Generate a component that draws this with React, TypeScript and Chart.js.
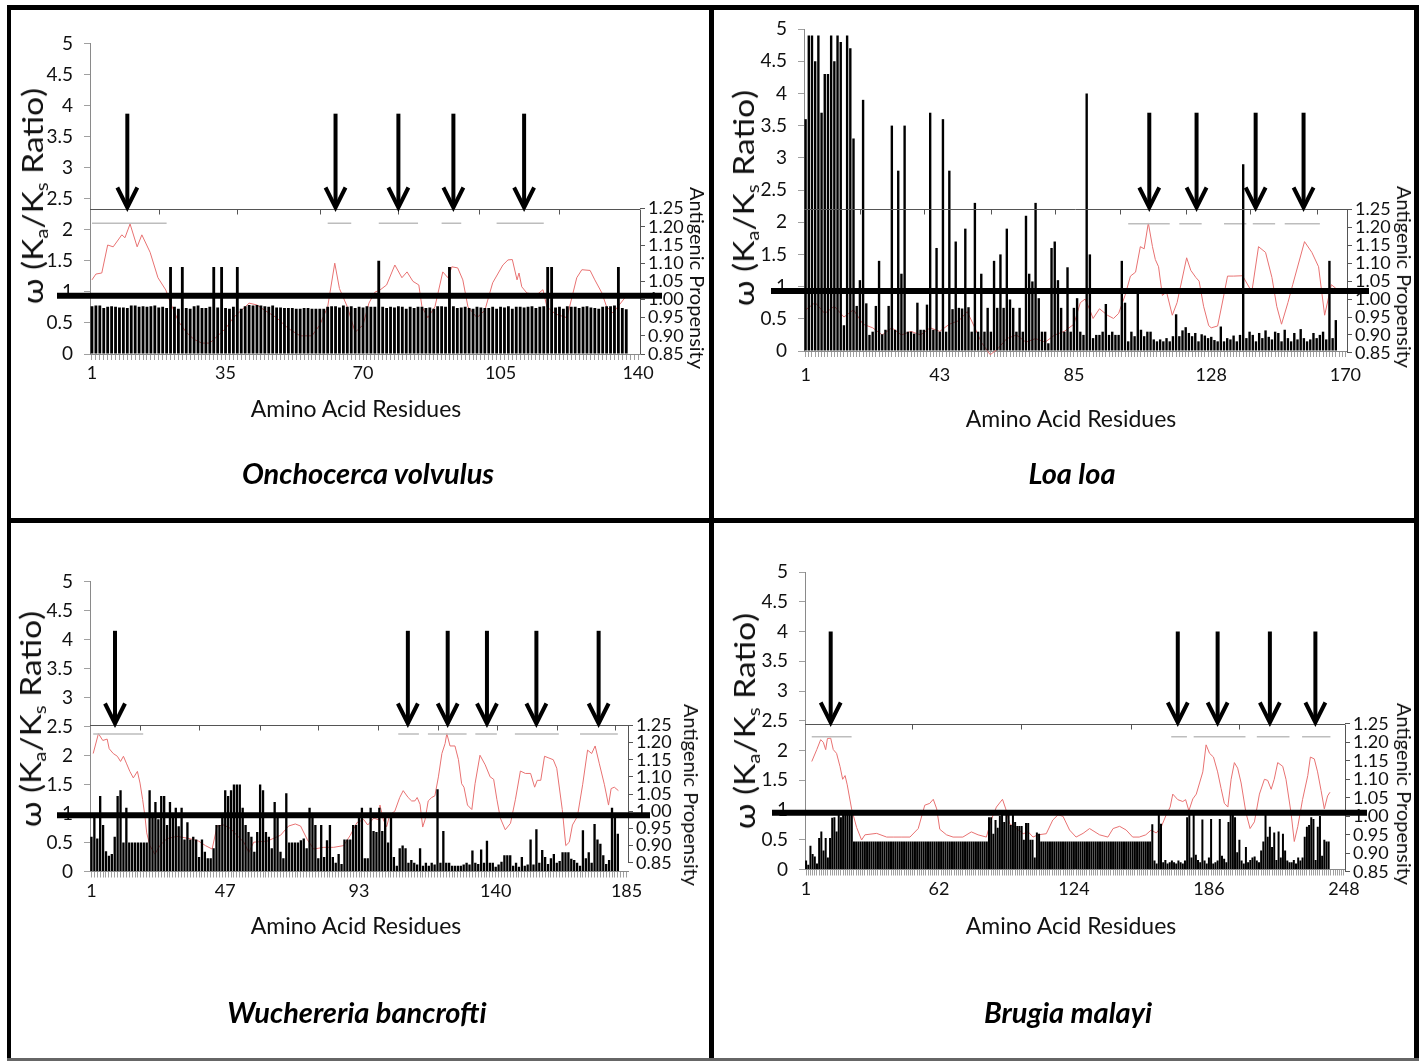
import React, { useEffect, useRef } from 'react';
import { Chart, registerables } from 'chart.js';

Chart.register(...registerables);

const FONT = "Lato, 'DejaVu Sans', sans-serif";
Chart.defaults.font.family = FONT;

// ---------- shared tick values ----------
const KAKS_STEP = 0.5;
const AP_TICKS = [0.85, 0.9, 0.95, 1.0, 1.05, 1.1, 1.15, 1.2, 1.25];

// ---------- Onchocerca volvulus ----------
const OV_LABELS = [1, 35, 70, 105, 140];
const OV_KAKS = [
  0.77, 0.78, 0.78, 0.74, 0.76, 0.77, 0.76, 0.75, 0.75, 0.74,
  0.78, 0.78, 0.76, 0.77, 0.76, 0.77, 0.78, 0.75, 0.76, 0.74,
  1.4, 0.76, 0.73, 1.4, 0.74, 0.73, 0.77, 0.78, 0.74, 0.74,
  0.76, 1.4, 0.75, 1.4, 0.74, 0.73, 0.76, 1.4, 0.73, 0.77,
  0.79, 0.78, 0.79, 0.78, 0.77, 0.76, 0.78, 0.75, 0.75, 0.74,
  0.74, 0.74, 0.73, 0.73, 0.74, 0.74, 0.73, 0.73, 0.73, 0.73,
  0.76, 0.77, 0.77, 0.75, 0.78, 0.76, 0.77, 0.74, 0.76, 0.75,
  0.77, 0.76, 0.76, 1.5, 0.76, 0.74, 0.76, 0.75, 0.77, 0.76,
  0.73, 0.76, 0.74, 0.76, 0.76, 0.74, 0.75, 0.73, 0.77, 0.77,
  0.76, 1.4, 0.77, 0.74, 0.75, 0.76, 0.74, 0.73, 0.76, 0.75,
  0.74, 0.74, 0.76, 0.73, 0.76, 0.75, 0.77, 0.73, 0.76, 0.76,
  0.75, 0.76, 0.77, 0.74, 0.76, 0.77, 1.4, 1.4, 0.75, 0.76,
  0.73, 0.77, 0.76, 0.76, 0.74, 0.76, 0.77, 0.75, 0.74, 0.73,
  0.76, 0.77, 0.77, 0.78, 1.4, 0.74, 0.72,
];
const OV_ANTIGENIC = [
  [1, 1.054], [2, 1.07], [3.5, 1.073], [5, 1.15], [6.4, 1.145], [8.6, 1.178], [9.4, 1.17], [10.7, 1.208],
  [12.5, 1.145], [13.7, 1.178], [15.8, 1.13], [17.8, 1.06], [19.8, 1.026], [21, 0.99], [23, 0.94], [25, 0.91],
  [27, 0.89], [29, 0.88], [31, 0.88], [33, 0.9], [35, 0.92], [37, 0.95], [39, 0.97], [41, 0.99], [43, 0.985],
  [45, 0.97], [48, 0.95], [51, 0.92], [54, 0.9], [57, 0.9], [59, 0.93], [61, 0.98], [62.8, 1.1], [64, 1.03],
  [66, 0.98], [68, 0.91], [70, 0.93], [71.5, 0.99], [73, 1.02], [74.3, 1.026], [76, 1.04], [78.1, 1.095],
  [79.9, 1.06], [81.2, 1.076], [82.7, 1.05], [84.2, 1.04], [85, 0.98], [86.5, 0.95], [88.3, 0.98], [90.3, 1.076],
  [91.6, 1.06], [92.6, 1.09], [94.1, 1.087], [95.4, 1.054], [96.7, 0.98], [99, 0.95], [101, 0.97], [103, 1.046],
  [105.6, 1.095], [106.9, 1.109], [108, 1.11], [109.2, 1.054], [109.7, 1.073], [110.4, 1.035], [111.7, 1.018],
  [114.2, 1.013], [115.8, 1.027], [116.8, 0.98], [119, 0.96], [121.9, 0.95], [124.4, 1.06], [125.7, 1.082],
  [127.8, 1.08], [129, 1.054], [130.8, 1.018], [132, 0.98], [133.6, 0.963], [136.6, 1.004],
];
const OV_EPITOPES = [[1, 20], [61, 67], [74, 84], [90, 95], [104, 116]];
const OV_ARROWS = [10, 63, 79, 93, 111];
const OV_BOX_TICKS = [18, 38, 59, 79, 99.5, 120];

// ---------- Loa loa ----------
const LL_LABELS = [1, 43, 85, 128, 170];
const LL_KAKS = [
  3.6, 4.9, 4.9, 4.5, 4.9, 3.7, 4.3, 4.3, 4.9, 4.5,
  4.9, 4.8, 0.4, 4.9, 4.7, 3.3, 0.7, 1.1, 3.9, 0.74,
  0.25, 0.3, 0.7, 1.4, 0.26, 0.33, 0.7, 3.5, 0.33, 2.8,
  1.2, 3.5, 0.3, 0.3, 0.27, 0.75, 0.33, 0.33, 0.72, 3.7,
  0.33, 1.6, 0.3, 3.6, 0.3, 2.8, 0.65, 1.7, 0.67, 0.66,
  1.9, 0.68, 0.3, 2.3, 0.3, 1.2, 0.3, 0.67, 0.3, 1.4,
  0.67, 1.5, 0.67, 1.9, 0.8, 0.67, 0.3, 0.67, 0.3, 2.1,
  1.2, 1.08, 2.3, 0.82, 0.3, 0.3, 0.12, 1.6, 1.7, 1.1,
  0.67, 0.3, 1.3, 0.3, 0.67, 0.82, 0.3, 0.25, 4.0, 1.5,
  0.2, 0.25, 0.25, 0.3, 0.73, 0.25, 0.3, 0.25, 0.25, 1.4,
  0.75, 0.15, 0.3, 0.23, 0.9, 0.33, 0.23, 0.3, 0.3, 0.18,
  0.15, 0.18, 0.15, 0.2, 0.15, 0.23, 0.57, 0.23, 0.32, 0.37,
  0.28, 0.23, 0.28, 0.15, 0.26, 0.24, 0.2, 0.22, 0.17, 0.15,
  0.38, 0.15, 0.2, 0.18, 0.24, 0.15, 0.25, 2.9, 0.2, 0.3,
  0.25, 0.15, 0.28, 0.2, 0.32, 0.22, 0.18, 0.3, 0.28, 0.15,
  0.33, 0.2, 0.15, 0.28, 0.18, 0.34, 0.2, 0.15, 0.18, 0.28,
  0.2, 0.25, 0.3, 0.18, 1.4, 0.2, 0.48,
];
const LL_ANTIGENIC = [
  [1, 0.97], [4, 0.99], [7, 0.96], [10, 0.98], [13, 0.95], [16, 0.97], [19, 0.93], [22, 0.92], [25, 0.9],
  [28, 0.92], [31, 0.9], [34, 0.91], [37, 0.9], [40, 0.92], [43, 0.91], [46, 0.93], [49, 0.94], [51.6, 0.965],
  [54, 0.92], [56, 0.88], [58.8, 0.845], [61, 0.86], [64, 0.89], [67, 0.9], [70, 0.88], [73, 0.89], [76, 0.88],
  [79, 0.9], [82, 0.91], [85, 0.93], [87, 0.99], [88.5, 1.0], [90, 0.97], [91, 0.946], [93, 0.973], [95.5, 0.955],
  [97.4, 0.946], [99, 0.96], [101, 1.01], [102.7, 1.064], [104.3, 1.075], [105.8, 1.146], [107, 1.14],
  [108.3, 1.212], [109.6, 1.146], [110.5, 1.11], [111.5, 1.09], [112.7, 1.01], [114, 1.02], [115.8, 0.955],
  [117.3, 0.99], [120.3, 1.115], [121.6, 1.08], [123.2, 1.06], [124.2, 1.05], [125.6, 0.98], [127.2, 0.926],
  [128, 0.92], [130, 0.925], [131.7, 1.0], [133.1, 1.064], [135, 1.064], [137.8, 1.065], [140.7, 1.02],
  [142.8, 1.146], [145, 1.13], [147, 1.06], [148.5, 0.98], [150, 0.93], [152, 0.99], [153.5, 1.04],
  [157.2, 1.16], [159.5, 1.13], [161.6, 1.09], [163.5, 0.955], [165.6, 1.04], [167, 1.03],
];
const LL_EPITOPES = [[102, 115], [118, 125], [132, 139], [141, 148], [151, 162]];
const LL_ARROWS = [108.6, 123.4, 141.9, 156.9];
const LL_BOX_TICKS = [18, 38, 59, 79, 99.4, 120, 140, 161];

// ---------- Wuchereria bancrofti ----------
const WB_LABELS = [1, 47, 93, 140, 185];
const WB_KAKS = [
  0.6, 0.97, 0.57, 1.3, 0.8, 0.35, 0.27, 0.3, 0.6, 1.3,
  1.4, 0.5, 1.1, 0.5, 0.5, 0.5, 0.5, 0.5, 0.5, 0.5,
  1.4, 0.97, 1.2, 0.9, 1.3, 1.3, 0.8, 1.2, 0.95, 1.1,
  0.78, 1.1, 0.55, 0.85, 0.55, 0.6, 0.55, 0.25, 0.55, 0.34,
  0.23, 0.23, 0.4, 0.8, 0.8, 0.97, 1.4, 1.3, 1.4, 1.5,
  1.5, 1.5, 1.1, 0.8, 0.68, 0.6, 0.34, 0.68, 1.5, 1.4,
  0.68, 0.6, 0.4, 1.2, 0.97, 0.34, 0.23, 1.35, 0.5, 0.5,
  0.5, 0.5, 0.54, 0.57, 0.4, 1.1, 0.95, 0.8, 0.23, 0.8,
  0.25, 0.54, 0.8, 0.25, 0.15, 0.3, 0.13, 0.55, 0.55, 0.55,
  0.8, 0.8, 0.97, 1.1, 0.23, 0.23, 1.1, 0.7, 0.68, 1.1,
  0.7, 0.97, 0.5, 0.97, 0.25, 0.1, 0.4, 0.45, 0.4, 0.15,
  0.2, 0.15, 0.12, 0.4, 0.1, 0.15, 0.1, 0.15, 0.12, 1.42,
  0.15, 0.7, 0.15, 0.15, 0.1, 0.1, 0.1, 0.1, 0.12, 0.15,
  0.12, 0.36, 0.15, 0.13, 0.38, 0.15, 0.53, 0.15, 0.15, 0.08,
  0.12, 0.17, 0.28, 0.28, 0.28, 0.1, 0.15, 0.08, 0.25, 0.1,
  0.12, 0.55, 0.12, 0.73, 0.15, 0.37, 0.25, 0.13, 0.23, 0.3,
  0.15, 0.18, 0.33, 0.33, 0.33, 0.22, 0.2, 0.15, 0.1, 0.71,
  0.23, 0.33, 0.15, 0.82, 0.55, 0.48, 0.28, 0.13, 0.2, 1.1,
  0.97, 0.65,
];
const WB_ANTIGENIC = [
  [1.6, 1.168], [3.4, 1.226], [4.9, 1.206], [6.4, 1.21], [7.1, 1.182], [8.5, 1.168], [9.9, 1.16], [11, 1.145],
  [12, 1.16], [13, 1.14], [14.2, 1.116], [15.4, 1.097], [16.8, 1.116], [17.7, 1.082], [18.6, 1.034],
  [19.4, 0.985], [20, 0.937], [21.1, 0.9], [22.8, 0.875], [24.5, 0.9], [26.9, 0.92], [30.4, 0.927], [35, 0.92],
  [37.9, 0.913], [40.2, 0.9], [42.5, 0.89], [44.2, 0.957], [46.5, 0.96], [48.8, 0.95], [51, 0.93], [53.4, 0.91],
  [55.1, 0.88], [56.8, 0.91], [61.4, 0.913], [66, 0.93], [68.8, 0.957], [71.1, 0.963], [72.9, 0.957],
  [75.2, 0.918], [77.4, 0.89], [80.9, 0.895], [84.3, 0.895], [87.7, 0.9], [90, 0.93], [92.3, 0.967],
  [94.6, 0.976], [96, 0.96], [98.1, 0.98], [99.8, 0.975], [100.2, 1.018], [101.4, 0.975], [102.5, 0.955],
  [103.6, 0.99], [105.3, 1.0], [107, 1.04], [108.2, 1.06], [109.9, 1.04], [111.1, 1.03], [112.2, 1.03],
  [113, 1.04], [114, 1.02], [114.9, 0.954], [115.7, 0.975], [116.8, 1.03], [118, 1.04], [119.1, 1.045],
  [120.3, 1.1], [121.5, 1.168], [122.6, 1.197], [123.2, 1.226], [124.3, 1.19], [126, 1.19], [127.2, 1.15],
  [128.3, 1.08], [129.1, 1.07], [130.3, 1.018], [131.8, 1.005], [132.9, 1.08], [134.6, 1.163], [136.4, 1.135],
  [138.1, 1.1], [139.3, 1.093], [140.4, 1.035], [141.6, 0.98], [143.3, 0.946], [145.1, 0.965], [146.8, 1.035],
  [148.5, 1.117], [150.2, 1.11], [152, 1.11], [153.4, 1.07], [154.3, 1.09], [155.5, 1.09], [156.8, 1.16],
  [158.3, 1.155], [159.8, 1.15], [161, 1.125], [162.9, 1.005], [164.1, 0.9], [165.3, 0.91], [166.4, 0.96],
  [168.1, 0.985], [169.9, 1.077], [171.6, 1.178], [173, 1.168], [174.2, 1.19], [175.6, 1.14], [177.4, 1.077],
  [178.8, 1.018], [179.7, 1.066], [180.8, 1.07], [182.2, 1.06],
];
const WB_EPITOPES = [[1.6, 18.8], [106.5, 113.6], [116.7, 130], [133, 140.4], [146.6, 161.7], [169, 182]];
const WB_ARROWS = [9.1, 109.8, 123.5, 137, 154, 175.4];
const WB_BOX_TICKS = [17.7, 38, 58.9, 79, 99.5, 120, 140.5, 161, 181];

// ---------- Brugia malayi ----------
const BM_LABELS = [1, 62, 124, 186, 248];
const BM_KAKS = [
  0.15, 0.08, 0.4, 0.26, 0.22, 0.1, 0.53, 0.64, 0.32, 0.53,
  0.2, 0.53, 0.87, 0.88, 0.64, 0.94, 0.88, 0.94, 0.94, 0.94,
  0.94, 0.94,
  0.47, 0.47, 0.47, 0.47, 0.47, 0.47, 0.47, 0.47, 0.47, 0.47,
  0.47, 0.47, 0.47, 0.47, 0.47, 0.47, 0.47, 0.47, 0.47, 0.47,
  0.47, 0.47, 0.47, 0.47, 0.47, 0.47, 0.47, 0.47, 0.47, 0.47,
  0.47, 0.47, 0.47, 0.47, 0.47, 0.47, 0.47, 0.47, 0.47, 0.47,
  0.47, 0.47, 0.47, 0.47, 0.47, 0.47, 0.47, 0.47, 0.47, 0.47,
  0.47, 0.47, 0.47, 0.47, 0.47, 0.47, 0.47, 0.47, 0.47, 0.47,
  0.47, 0.47,
  0.88, 0.88, 0.6, 0.83, 0.7, 0.9, 0.94, 0.8, 0.94, 0.94,
  0.75, 0.94, 0.8, 0.73, 0.73, 0.73, 0.5, 0.78, 0.78, 0.5,
  0.5, 0.2, 0.62, 0.6,
  0.47, 0.47, 0.47, 0.47, 0.47, 0.47, 0.47, 0.47, 0.47, 0.47,
  0.47, 0.47, 0.47, 0.47, 0.47, 0.47, 0.47, 0.47, 0.47, 0.47,
  0.47, 0.47, 0.47, 0.47, 0.47, 0.47, 0.47, 0.47, 0.47, 0.47,
  0.47, 0.47, 0.47, 0.47, 0.47, 0.47, 0.47, 0.47, 0.47, 0.47,
  0.47, 0.47, 0.47, 0.47, 0.47, 0.47, 0.47, 0.47, 0.47, 0.47,
  0.47,
  0.76, 0.15, 0.1, 0.94, 0.77, 0.12, 0.16, 0.1, 0.12, 0.15,
  0.12, 0.1, 0.15, 0.12, 0.1, 0.15, 0.88, 0.94, 0.2, 0.94,
  0.25, 0.16, 0.12, 0.84, 0.15, 0.1, 0.2, 0.85, 0.1, 0.12,
  0.15, 0.85, 0.23, 0.18, 0.12, 0.8, 0.94, 0.94, 0.88, 0.29,
  0.5, 0.15, 0.1, 0.38, 0.12, 0.16, 0.2, 0.22, 0.15, 0.12,
  0.32, 0.47, 0.94, 0.55, 0.72, 0.38, 0.62, 0.16, 0.64, 0.2,
  0.6, 0.32, 0.15, 0.12, 0.12, 0.16, 0.1, 0.2, 0.15, 0.2,
  0.55, 0.72, 0.75, 0.88, 0.85, 0.16, 0.72, 0.9, 0.23, 0.5,
  0.47, 0.47,
];
const BM_ANTIGENIC = [
  [3.6, 1.148], [5.9, 1.18], [7.7, 1.207], [8.9, 1.2], [10, 1.18], [10.8, 1.21], [12.3, 1.211], [13.5, 1.18],
  [15, 1.17], [16.6, 1.134], [17.8, 1.1], [18.9, 1.11], [19.9, 1.085], [21.9, 1.02], [24.2, 0.97], [26.5, 0.936],
  [28, 0.95], [33.4, 0.954], [38, 0.944], [41, 0.944], [45, 0.944], [48.7, 0.944], [52.5, 0.967], [55.5, 1.03],
  [57.8, 1.035], [59.4, 1.046], [61, 1.02], [62.4, 0.965], [65.5, 0.95], [68.5, 0.944], [73, 0.944],
  [76.9, 0.958], [80, 0.95], [83.8, 0.944], [86, 0.99], [88.4, 1.025], [91.2, 1.046], [92.7, 1.02], [94.5, 0.98],
  [97.6, 0.967], [100.7, 0.953], [103, 0.958], [105.2, 0.944], [107.5, 0.95], [111.3, 0.953], [114.3, 0.99],
  [116.7, 1.004], [119, 1.0], [122, 0.963], [125, 0.944], [128.2, 0.954], [131.2, 0.967], [135.8, 0.95],
  [139.6, 0.944], [142, 0.967], [145, 0.973], [148, 0.963], [151, 0.944], [154, 0.944], [157, 0.95],
  [159.5, 0.963], [161.8, 0.955], [164, 0.97], [166.4, 1.004], [168.2, 1.025], [169.4, 1.06], [171.7, 1.045],
  [174, 1.04], [175.3, 1.045], [176.8, 1.015], [178.6, 1.047], [180.2, 1.06], [181.7, 1.09], [183.2, 1.12],
  [184.7, 1.193], [186.3, 1.17], [188.1, 1.16], [190, 1.12], [191.6, 1.075], [193.1, 1.035], [194.7, 1.025],
  [196.2, 1.1], [197.7, 1.145], [199.2, 1.13], [200.8, 1.09], [203, 1.01], [204.9, 0.967], [206.9, 0.985],
  [209.2, 1.06], [211.5, 1.1], [213, 1.097], [214.6, 1.073], [216, 1.1], [217.6, 1.145], [219.9, 1.135],
  [221.4, 1.1], [223.7, 1.01], [225.2, 0.932], [226.8, 0.972], [229, 1.045], [231.4, 1.11], [232.6, 1.16],
  [234.4, 1.155], [235.9, 1.12], [237.5, 1.07], [239, 1.02], [240.5, 1.055], [241.6, 1.065],
];
const BM_EPITOPES = [[3.6, 21.9], [168.7, 175.9], [179, 202.8], [208, 223], [228.8, 241.8]];
const BM_ARROWS = [12.3, 171.7, 190, 214, 234.9];
const BM_BOX_TICKS = [49.5, 99.5, 150, 200];

// ---------- layout ----------
const PANELS = [
  {
    key: 'ov', species: 'Onchocerca volvulus', count: 140, labels: OV_LABELS, kaks: OV_KAKS,
    antigenic: OV_ANTIGENIC, epitopes: OV_EPITOPES, epitopeLevel: 1.21, arrows: OV_ARROWS, arrowTop: 3.87,
    boxTicks: OV_BOX_TICKS, apLow: 0, apHigh: 2.34, refLine: 0.94, barPct: 0.72,
    q: { x: 0, y: 0, w: 711, h: 519 }, area: { l: 90, r: 640, t: 43.5, b: 354 },
    yTitle: [32, 196], rTitle: [698, 278], xTitle: [356, 408], sTitle: [368, 472], xPad: 2,
  },
  {
    key: 'll', species: 'Loa loa', count: 170, labels: LL_LABELS, kaks: LL_KAKS,
    antigenic: LL_ANTIGENIC, epitopes: LL_EPITOPES, epitopeLevel: 1.21, arrows: LL_ARROWS, arrowTop: 3.7,
    boxTicks: LL_BOX_TICKS, apLow: -0.03, apHigh: 2.2, refLine: 0.93, barPct: 0.75,
    q: { x: 711, y: 0, w: 712, h: 519 }, area: { l: 804, r: 1347, t: 29, b: 351 },
    yTitle: [743, 198], rTitle: [1405, 277], xTitle: [1071, 418], sTitle: [1072, 472], xPad: 7,
  },
  {
    key: 'wb', species: 'Wuchereria bancrofti', count: 185, labels: WB_LABELS, kaks: WB_KAKS,
    antigenic: WB_ANTIGENIC, epitopes: WB_EPITOPES, epitopeLevel: 1.225, arrows: WB_ARROWS, arrowTop: 4.15,
    boxTicks: WB_BOX_TICKS, apLow: 0.15, apHigh: 2.52, refLine: 0.97, barPct: 0.8,
    q: { x: 0, y: 519, w: 711, h: 543 }, area: { l: 90, r: 628, t: 581.5, b: 871.5 },
    yTitle: [30, 719], rTitle: [692, 795], xTitle: [356, 925], sTitle: [357, 1011], xPad: 3,
  },
  {
    key: 'bm', species: 'Brugia malayi', count: 248, labels: BM_LABELS, kaks: BM_KAKS,
    antigenic: BM_ANTIGENIC, epitopes: BM_EPITOPES, epitopeLevel: 1.215, arrows: BM_ARROWS, arrowTop: 4.0,
    boxTicks: BM_BOX_TICKS, apLow: -0.04, apHigh: 2.45, refLine: 0.955, barPct: 0.92,
    q: { x: 711, y: 519, w: 712, h: 543 }, area: { l: 805, r: 1345, t: 572, b: 869.5 },
    yTitle: [744, 721], rTitle: [1405, 794], xTitle: [1071, 925], sTitle: [1068, 1011], xPad: 3,
  },
];

const LEFT_W = 50;
const RIGHT_W = 60;
const X_H = 32;

function makeOverlay(p: any) {
  return {
    id: 'overlay-' + p.key,
    afterDatasetsDraw(chart: any) {
      const { ctx, chartArea: a, scales } = chart;
      const x = scales.x, y = scales.y, y2 = scales.y2;
      const yTop = Math.round(y2.getPixelForValue(1.25)) + 0.5;
      const yBot = y2.getPixelForValue(0.85);
      ctx.save();
      // secondary plot box
      ctx.strokeStyle = '#555';
      ctx.lineWidth = 1;
      ctx.beginPath();
      ctx.moveTo(a.left, yTop);
      ctx.lineTo(a.right, yTop);
      ctx.moveTo(Math.round(a.right) + 0.5, yTop);
      ctx.lineTo(Math.round(a.right) + 0.5, yBot);
      p.boxTicks.forEach((t: number) => {
        const px = Math.round(x.getPixelForValue(t)) + 0.5;
        ctx.moveTo(px, yTop);
        ctx.lineTo(px, yTop + 5);
      });
      ctx.stroke();
      // reference line
      const yr = y.getPixelForValue(p.refLine);
      ctx.strokeStyle = '#000';
      ctx.lineWidth = 6;
      ctx.beginPath();
      ctx.moveTo(a.left - 33, yr);
      ctx.lineTo(a.right + 22, yr);
      ctx.stroke();
      // arrows
      const yA = y.getPixelForValue(p.arrowTop);
      ctx.lineWidth = 4;
      ctx.lineJoin = 'miter';
      p.arrows.forEach((r: number) => {
        const px = x.getPixelForValue(r);
        ctx.beginPath();
        ctx.moveTo(px, yA);
        ctx.lineTo(px, yTop - 3);
        ctx.stroke();
        ctx.beginPath();
        ctx.moveTo(px - 10, yTop - 22);
        ctx.lineTo(px, yTop - 2);
        ctx.lineTo(px + 10, yTop - 22);
        ctx.stroke();
      });
      ctx.restore();
    },
  };
}

function PanelChart({ p }: { p: any }) {
  const ref = useRef<HTMLCanvasElement>(null);
  useEffect(() => {
    const canvas = ref.current;
    if (!canvas) return;
    const k = 0.4 / (p.apHigh - p.apLow);
    const y2min = 0.85 - p.apLow * k;
    const y2max = y2min + 5 * k;
    const al = p.area.l - p.q.x, ar = p.area.r - p.q.x, at = p.area.t - p.q.y, ab = p.area.b - p.q.y;
    const residueTicks = Array.from({ length: p.count }, (_, i) => i + 1);
    const bars = p.kaks.map((v: number, i: number) => ({ x: i + 1, y: v }));
    const ap = p.antigenic.map(([x, y]: number[]) => ({ x, y }));
    const dash: any[] = [];
    p.epitopes.forEach(([s, e]: number[], i: number) => {
      if (i > 0) dash.push({ x: (p.epitopes[i - 1][1] + s) / 2, y: null });
      dash.push({ x: s, y: p.epitopeLevel }, { x: e, y: p.epitopeLevel });
    });
    const chart = new Chart(canvas, {
      type: 'bar',
      data: {
        datasets: [
          {
            type: 'bar', data: bars, yAxisID: 'y', backgroundColor: '#000', borderWidth: 0,
            barPercentage: p.barPct, categoryPercentage: 1, order: 0,
          } as any,
          {
            type: 'line', data: dash, yAxisID: 'y2', borderColor: '#bdbdbd', borderWidth: 1.6,
            pointRadius: 0, spanGaps: false, order: 1,
          } as any,
          {
            type: 'line', data: ap, yAxisID: 'y2', borderColor: '#e87272', borderWidth: 1,
            pointRadius: 0, tension: 0, clip: false, order: 2,
          } as any,
        ],
      },
      options: {
        responsive: false,
        maintainAspectRatio: false,
        animation: false,
        events: [],
        layout: {
          padding: { left: al - LEFT_W, right: p.q.w - ar - RIGHT_W, top: at, bottom: p.q.h - ab - X_H },
        },
        plugins: { legend: { display: false }, tooltip: { enabled: false } },
        scales: {
          x: {
            type: 'linear', min: 0.5, max: p.count + 0.5, offset: false,
            afterBuildTicks: (s: any) => { s.ticks = residueTicks.map((v: number) => ({ value: v })); },
            afterFit: (s: any) => { s.height = X_H; },
            grid: { drawOnChartArea: false, drawTicks: true, tickLength: 6, color: '#a0a0a0', offset: false },
            border: { display: true, color: '#8a8a8a' },
            ticks: {
              autoSkip: false, maxRotation: 0, minRotation: 0, padding: p.xPad, color: '#111',
              font: { family: FONT, size: 18 },
              callback: (v: any) => (p.labels.includes(v) ? String(v) : ''),
            },
          },
          y: {
            position: 'left', min: 0, max: 5,
            afterFit: (s: any) => { s.width = LEFT_W; },
            ticks: {
              stepSize: KAKS_STEP, padding: 11, color: '#111', font: { family: FONT, size: 19 },
              callback: (v: any) => String(Number(v)),
            },
            grid: { drawOnChartArea: false, tickLength: 6, color: '#a0a0a0' },
            border: { display: true, color: '#8a8a8a' },
          },
          y2: {
            position: 'right', min: y2min, max: y2max,
            afterBuildTicks: (s: any) => { s.ticks = AP_TICKS.map((v) => ({ value: v })); },
            afterFit: (s: any) => { s.width = RIGHT_W; },
            ticks: {
              padding: 3, color: '#111', font: { family: FONT, size: 18 },
              callback: (v: any) => Number(v).toFixed(2),
            },
            grid: { drawOnChartArea: false, tickLength: 5, color: '#555' },
            border: { display: false },
          },
        },
      } as any,
      plugins: [makeOverlay(p)],
    });
    return () => chart.destroy();
  }, [p]);

  const base: React.CSSProperties = {
    position: 'absolute', whiteSpace: 'nowrap', fontFamily: FONT, color: '#111', lineHeight: 1,
  };
  const sub: React.CSSProperties = { fontSize: '0.6em', position: 'relative', top: '0.3em' };
  return (
    <>
      <canvas
        ref={ref}
        width={p.q.w}
        height={p.q.h}
        style={{ position: 'absolute', left: p.q.x, top: p.q.y, width: p.q.w, height: p.q.h }}
      />
      <div
        style={{
          ...base, left: p.yTitle[0], top: p.yTitle[1], fontSize: 28,
          transform: 'translate(-50%, -50%) rotate(-90deg) scaleX(1.2)',
        }}
      >
        ω (K<span style={sub}>a</span>/K<span style={sub}>s</span> Ratio)
      </div>
      <div
        style={{
          ...base, left: p.rTitle[0], top: p.rTitle[1], fontSize: 20,
          transform: 'translate(-50%, -50%) rotate(90deg)',
        }}
      >
        Antigenic Propensity
      </div>
      <div style={{ ...base, left: p.xTitle[0], top: p.xTitle[1], fontSize: 23, transform: 'translate(-50%, -50%)' }}>
        Amino Acid Residues
      </div>
      <div
        style={{
          ...base, left: p.sTitle[0], top: p.sTitle[1], fontSize: 29, fontWeight: 700, fontStyle: 'italic',
          transform: 'translate(-50%, -50%)', color: '#000',
        }}
      >
        {p.species}
      </div>
    </>
  );
}

export default function App() {
  const line = (s: React.CSSProperties): React.CSSProperties => ({ position: 'absolute', background: '#000', zIndex: 3, ...s });
  return (
    <div style={{ position: 'absolute', left: 0, top: 0, width: 1423, height: 1062, background: '#fff', overflow: 'hidden' }}>
      {PANELS.map((p) => (
        <PanelChart key={p.key} p={p} />
      ))}
      <div style={line({ left: 7, top: 5, width: 1412, height: 5 })} />
      <div style={line({ left: 7, top: 5, width: 4, height: 1056 })} />
      <div style={line({ left: 1414, top: 5, width: 5, height: 1056 })} />
      <div style={line({ left: 709, top: 5, width: 5, height: 1056 })} />
      <div style={line({ left: 7, top: 518, width: 1412, height: 5 })} />
      <div style={line({ left: 7, top: 1058, width: 1412, height: 3, background: '#666' })} />
    </div>
  );
}
